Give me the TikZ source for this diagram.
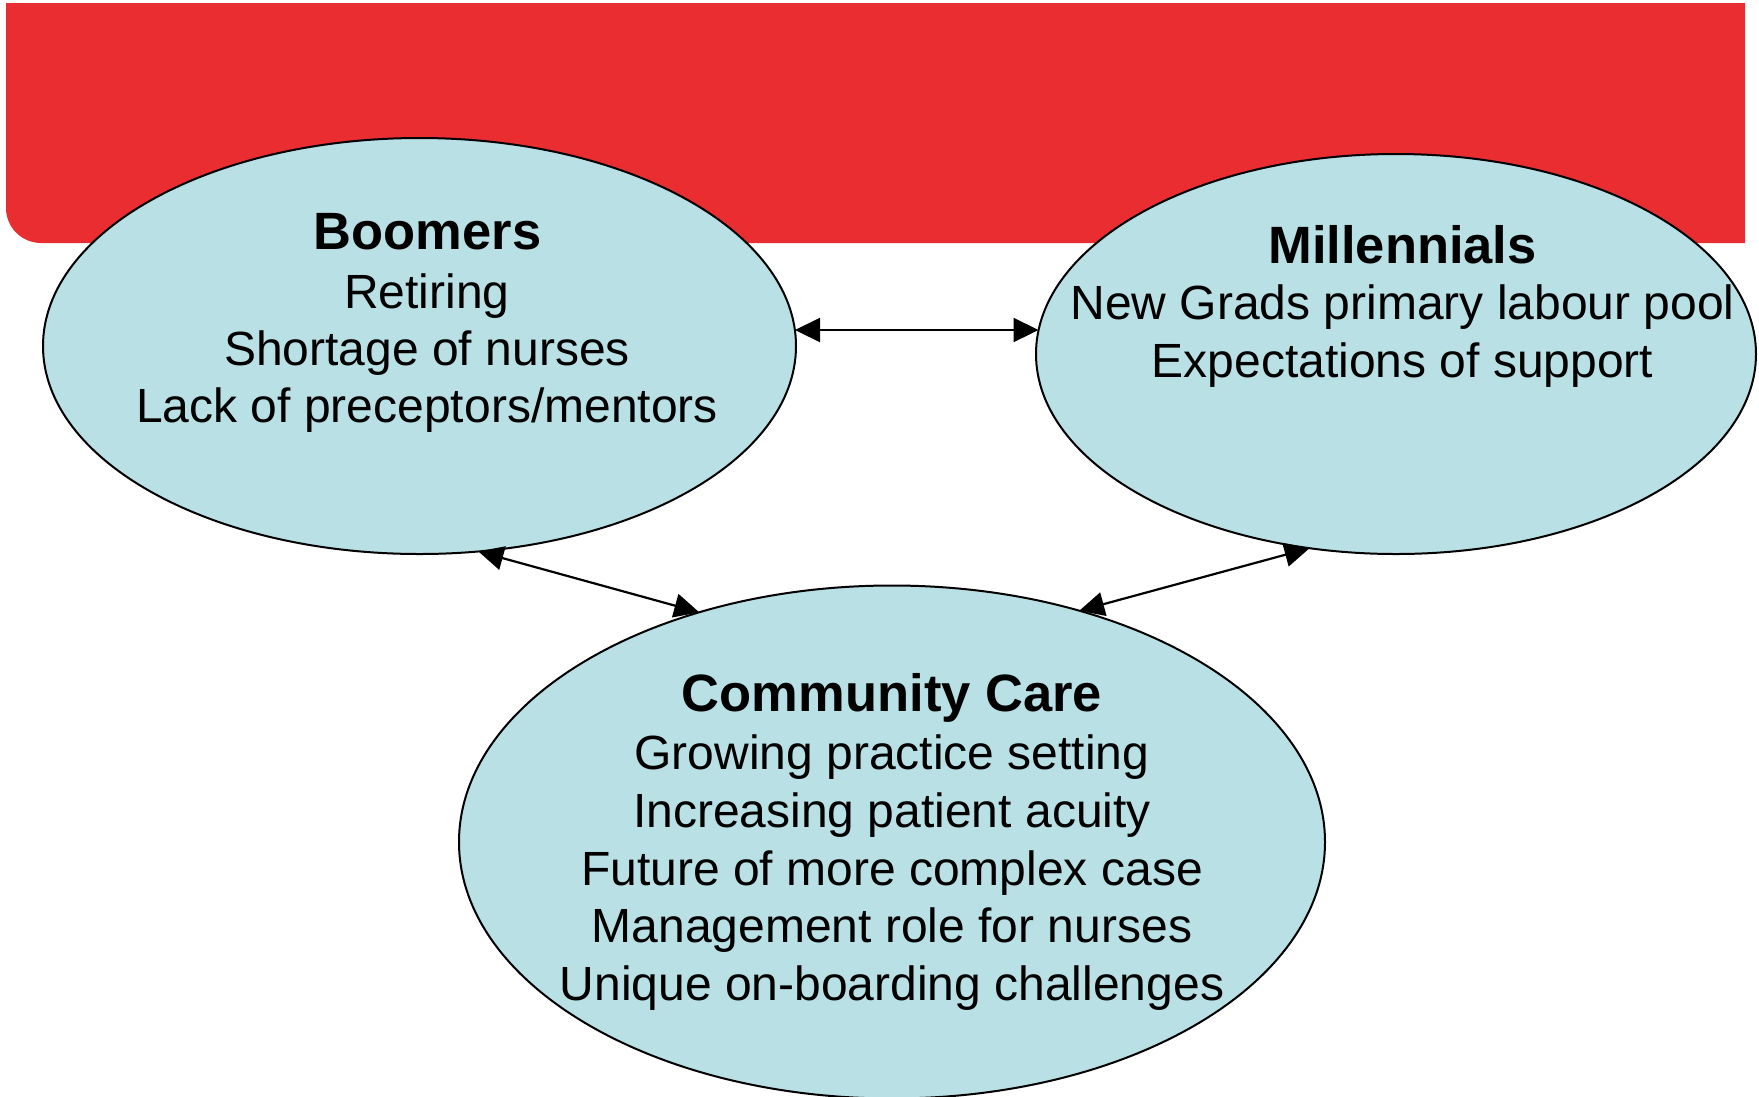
\documentclass[tikz,border=0pt]{standalone}
\usepackage{fontspec}
\setmainfont{Liberation Sans}
\usetikzlibrary{shapes.geometric,arrows.meta}
\definecolor{bandred}{RGB}{233,45,48}
\definecolor{ovalfill}{RGB}{185,224,228}
\tikzset{
  oval/.style={ellipse, draw=black, line width=2pt, fill=ovalfill, inner sep=0pt, outer sep=0pt},
  titletext/.style={anchor=base, inner sep=0pt, font=\fontsize{52.5}{60}\selectfont\bfseries},
  bodytext/.style={anchor=base, inner sep=0pt, font=\fontsize{48}{58}\selectfont},
  conn/.style={line width=2.2pt, {Triangle[length=25pt,width=24pt]}-{Triangle[length=25pt,width=24pt]}}
}
\begin{document}
\begin{tikzpicture}[x=1pt,y=-1pt]
\useasboundingbox (0,0) rectangle (1759,1096);
% red band
\fill[bandred] (6,3) -- (1745,3) -- (1745,243) -- (41,243) .. controls (21.7,243) and (6,227.3) .. (6,208) -- cycle;
% ovals
\node[oval, minimum width=753pt, minimum height=416pt] (boom) at (419.5,346) {};
\node[oval, minimum width=720pt, minimum height=400pt] (mill) at (1396,354) {};
\node[oval, minimum width=866pt, minimum height=513pt] (comm) at (892,842) {};
\coordinate (hline) at (0,330);
% connectors
\draw[conn] ([xshift=-1pt]boom.east |- hline) -- ([xshift=2.5pt]mill.west |- hline);
\draw[conn] (boom.-74.2) -- (comm.130.8);
\draw[conn] (mill.-114.1) -- (comm.51.85);
% texts
\node[titletext] (boomT) at (427.5,249.5) {Boomers};
\node[bodytext] (boom1) at (427,308) {Retiring};
\node[bodytext] (boom2) at (427,365.5) {Shortage of nurses};
\node[bodytext] (boom3) at (427,422) {Lack of preceptors/mentors};
\node[titletext] (millT) at (1402.5,263) {Millennials};
\node[bodytext] (mill1) at (1402.5,319.5) {New Grads primary labour pool};
\node[bodytext] (mill2) at (1402.5,377) {Expectations of support};
\node[titletext] (commT) at (892,711) {Community Care};
\node[bodytext] (comm1) at (892,769) {Growing practice setting};
\node[bodytext] (comm2) at (892,827.5) {Increasing patient acuity};
\node[bodytext] (comm3) at (892,885.5) {Future of more complex case};
\node[bodytext] (comm4) at (892,942) {Management role for nurses};
\node[bodytext] (comm5) at (892,1000) {Unique on-boarding challenges};
\end{tikzpicture}
\end{document}
